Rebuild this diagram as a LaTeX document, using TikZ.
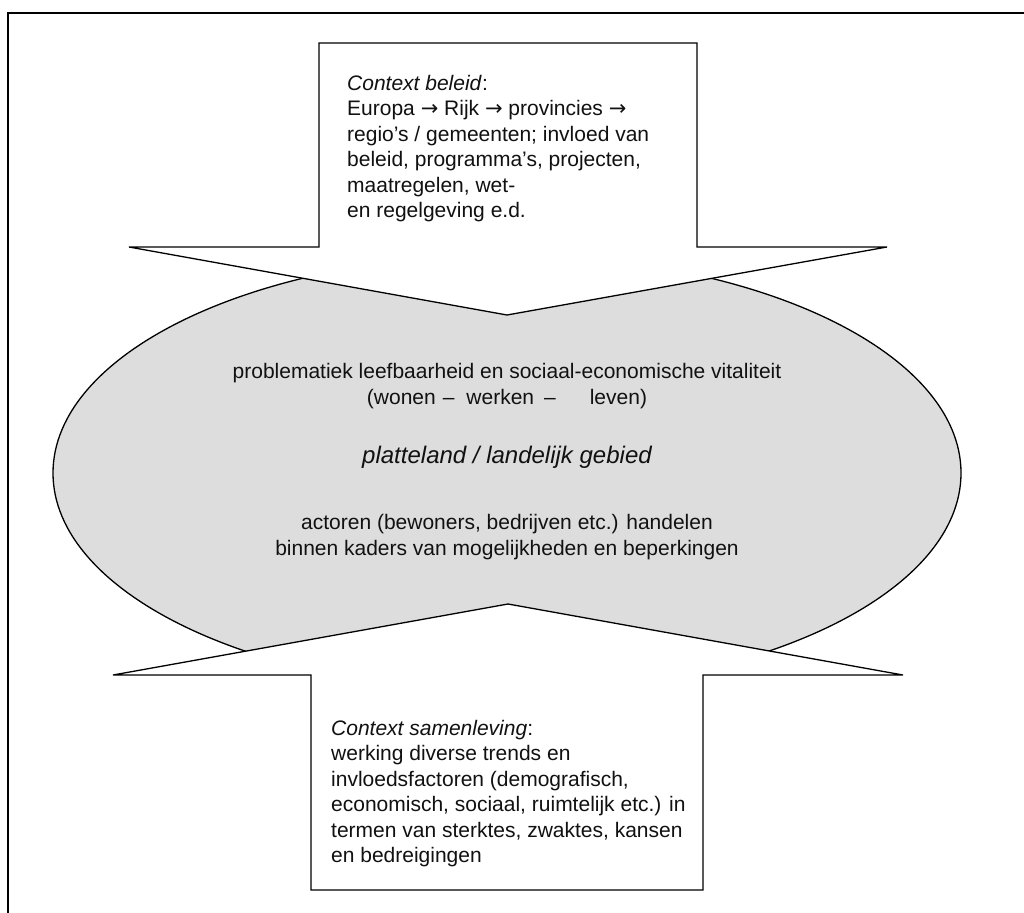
\documentclass[tikz,border=0pt]{standalone}
\usepackage{fontspec}
\setmainfont{Liberation Sans}
\newfontfamily\arrowfont{DejaVu Sans}
\definecolor{ellgray}{HTML}{DDDDDD}
\definecolor{inkcol}{HTML}{111111}
\newcommand{\rarr}{{\arrowfont →}}
\begin{document}
\begin{tikzpicture}[x=1pt,y=-1pt,
  outline/.style={draw=black,line width=1.3pt,line join=miter},
  body/.style={font=\fontsize{21}{25.4}\selectfont, inner sep=0pt, text=inkcol}]
\useasboundingbox (0,0) rectangle (1024,912);
\draw[line width=2pt] (8,13) rectangle (1040,930);
% central ellipse
\draw[outline, fill=ellgray] (507,473) ellipse [x radius=454, y radius=218];
% top arrow (policy context)
\draw[outline, fill=white] (319,43) -- (697,43) -- (697,247) -- (887,247) -- (507,315) -- (129,247) -- (319,247) -- cycle;
% bottom arrow (society context)
\draw[outline, fill=white] (311,890) -- (311,675) -- (113,675) -- (508,604) -- (903,675) -- (703,675) -- (703,890) -- cycle;
% texts
\node[body, anchor=north west, align=left] (beleid) at (347,75)
  {\textit{Context beleid}:\\
   Europa \rarr{} Rijk \rarr{} provincies \rarr\\
   regio’s / gemeenten; invloed van\\
   beleid, programma’s, projecten,\\
   maatregelen, wet-\\
   en regelgeving e.d.};
\node[body, anchor=north west, align=left] (samenleving) at (331,720)
  {\textit{Context samenleving}:\\
   werking diverse trends en\\
   invloedsfactoren (demografisch,\\
   economisch, sociaal, ruimtelijk etc.) in\\
   termen van sterktes, zwaktes, kansen\\
   en bedreigingen};
\node[body, anchor=center, align=center] (problematiek) at (507,386)
  {problematiek leefbaarheid en sociaal-economische vitaliteit\\
   (wonen\hspace{7pt}–\hspace{12pt}werken\hspace{10pt}–\hspace{34pt}leven)};
\node[inner sep=0pt, text=inkcol, font=\fontsize{24}{29}\selectfont\itshape] (gebied) at (507,457)
  {platteland / landelijk gebied};
\node[body, anchor=center, align=center] (actoren) at (507,537)
  {actoren (bewoners, bedrijven etc.) handelen\\
   binnen kaders van mogelijkheden en beperkingen};
\end{tikzpicture}
\end{document}
